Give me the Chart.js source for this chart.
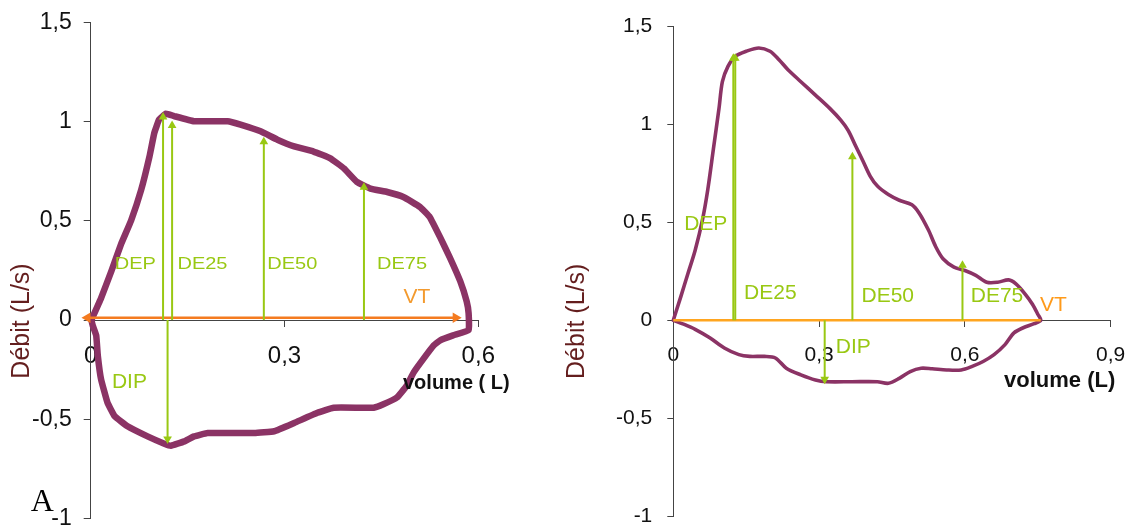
<!DOCTYPE html>
<html><head><meta charset="utf-8">
<script src="https://cdn.jsdelivr.net/npm/chart.js@4/dist/chart.umd.min.js"></script>
<style>
html,body{margin:0;padding:0;background:#fff;}
#wrap{position:relative;width:1131px;height:529px;overflow:hidden;background:#fff;}
.c{position:absolute;top:0;}
</style></head><body>
<div id="wrap">
<div class="c" style="left:0;width:560px;height:529px"><canvas id="cA" width="560" height="529"></canvas></div>
<div class="c" style="left:560px;width:571px;height:529px"><canvas id="cB" width="571" height="529"></canvas></div>
</div>
<script>
// ---------- Data: chart A (left) ----------
const loopA_x = [0.001,0.016,0.032,0.047,0.0625,0.078,0.091,0.0985,0.106,0.1165,0.129,0.160,0.212,0.232,0.263,0.289,0.315,0.345,0.371,0.392,0.412,0.433,0.459,0.484,0.510,0.525,0.541,0.556,0.572,0.582,0.585,0.585,0.561,0.541,0.531,0.515,0.500,0.489,0.474,0.453,0.438,0.417,0.376,0.351,0.315,0.284,0.253,0.181,0.160,0.145,0.124,0.114,0.088,0.057,0.037,0.026,0.016,0.011,0.0085,0.003,0.001];
const loopA_y = [0,0.11,0.247,0.383,0.502,0.655,0.825,0.944,1.012,1.041,1.029,1.003,1.003,0.986,0.952,0.910,0.876,0.850,0.816,0.765,0.697,0.663,0.646,0.621,0.570,0.519,0.417,0.315,0.196,0.094,0.034,-0.051,-0.077,-0.102,-0.128,-0.196,-0.264,-0.332,-0.391,-0.425,-0.442,-0.442,-0.442,-0.468,-0.519,-0.561,-0.570,-0.570,-0.587,-0.612,-0.634,-0.624,-0.587,-0.536,-0.485,-0.417,-0.298,-0.179,-0.077,-0.026,0];
const arrowsA_x = [0.112, 0.126, 0.268, 0.423, 0.119];
const arrowsA_end = [1.024, 0.982, 0.90, 0.67, -0.60];
const vtA_x = [-0.005, 0.565];
const vtA_y = [0.012, 0.012];
const labelsA_text = ['DEP','DE25','DE50','DE75','VT','DIP'];
const labelsA_x = [0.069, 0.173, 0.312, 0.482, 0.505, 0.060];
const labelsA_y = [0.28, 0.28, 0.28, 0.28, 0.1135, -0.315];
const xTicksA = [0, 0.3, 0.6];
const xTickLabelsA = ['0','0,3','0,6'];

// ---------- Data: chart B (right) ----------
const loopB_x = [0,0.015,0.030,0.045,0.060,0.071,0.0825,0.094,0.101,0.1125,0.1275,0.150,0.176,0.199,0.2175,0.236,0.2625,0.2925,0.3225,0.345,0.360,0.375,0.390,0.405,0.420,0.4425,0.465,0.491,0.506,0.525,0.540,0.555,0.5775,0.600,0.6225,0.645,0.6675,0.690,0.705,0.724,0.739,0.750,0.756,0.7425,0.720,0.701,0.6825,0.660,0.6375,0.615,0.5925,0.5625,0.5325,0.510,0.4875,0.465,0.4425,0.420,0.3675,0.315,0.2925,0.2625,0.2325,0.210,0.1875,0.1575,0.135,0.105,0.075,0.045,0.0225,0];
const loopB_y = [0,0.117,0.237,0.357,0.512,0.667,0.873,1.079,1.216,1.294,1.345,1.371,1.388,1.371,1.328,1.277,1.216,1.148,1.079,1.019,0.967,0.890,0.813,0.735,0.684,0.641,0.612,0.589,0.546,0.460,0.375,0.314,0.271,0.254,0.229,0.194,0.194,0.206,0.186,0.134,0.082,0.031,0,-0.017,-0.038,-0.064,-0.124,-0.175,-0.210,-0.235,-0.253,-0.253,-0.247,-0.244,-0.261,-0.296,-0.321,-0.313,-0.313,-0.313,-0.304,-0.278,-0.244,-0.192,-0.184,-0.184,-0.175,-0.141,-0.089,-0.046,-0.021,0];
const arrowsB_x = [0.1235, 0.1275, 0.3685, 0.595, 0.3115];
const arrowsB_end = [1.336, 1.336, 0.834, 0.28, -0.30];
const vtB_x = [0, 0.756];
const vtB_y = [0, 0];
const labelsB_text = ['DEP','DE25','DE50','DE75','VT','DIP'];
const labelsB_x = [0.0667, 0.1996, 0.4413, 0.666, 0.7823, 0.3702];
const labelsB_y = [0.489, 0.1356, 0.124, 0.124, 0.0765, -0.139];
const xTicksB = [0, 0.3, 0.6, 0.9];
const xTickLabelsB = ['0','0,3','0,6','0,9'];

// ---------- shared ----------
const yTicks = [-1, -0.5, 0, 0.5, 1, 1.5];
const yTickLabels = ['-1','-0,5','0','0,5','1','1,5'];
const yTitle = 'Débit (L/s)';
const xTitleA = 'volume ( L)';
const xTitleB = 'volume (L)';
const panelLabel = 'A';

const SANS = "'Liberation Sans', Arial, sans-serif";
const PURPLE = '#8b3365';
const GREEN = '#99c813';

function arrowDatasets(xs, ends, width) {
  return xs.map((x, i) => ({
    data: [{x: x, y: 0}, {x: x, y: ends[i]}],
    showLine: true, borderColor: GREEN, backgroundColor: GREEN, borderWidth: width,
    pointRadius: [0, 5], pointStyle: 'triangle', pointBorderWidth: 0,
    pointRotation: [0, ends[i] < 0 ? 180 : 0], clip: false, order: 1
  }));
}

function textPlugin(spec) {
  return {
    id: 'txt',
    afterDatasetsDraw(chart) {
      const ctx = chart.ctx, xs = chart.scales.x, ys = chart.scales.y;
      ctx.save();
      spec.labels.forEach(l => {
        const px = xs.getPixelForValue(l.x), py = ys.getPixelForValue(l.y);
        ctx.save();
        ctx.translate(px, py);
        ctx.scale(1, l.sy || 1);
        ctx.font = l.font; ctx.fillStyle = l.color;
        ctx.textAlign = 'center'; ctx.textBaseline = 'middle';
        ctx.fillText(l.text, 0, 0);
        ctx.restore();
      });
      // y axis title (rotated)
      ctx.save();
      ctx.translate(spec.yt.x, spec.yt.y);
      ctx.rotate(-Math.PI / 2);
      ctx.font = spec.yt.font; ctx.fillStyle = '#641e1e';
      ctx.textAlign = 'center'; ctx.textBaseline = 'alphabetic';
      ctx.fillText(yTitle, 0, 0);
      ctx.restore();
      // x axis title
      ctx.font = spec.xt.font; ctx.fillStyle = '#111';
      ctx.textAlign = 'left'; ctx.textBaseline = 'alphabetic';
      ctx.fillText(spec.xt.text, spec.xt.x, spec.xt.y);
      if (spec.extra) {
        ctx.font = spec.extra.font; ctx.fillStyle = '#000';
        ctx.fillText(spec.extra.text, spec.extra.x, spec.extra.y);
      }
      ctx.restore();
    }
  };
}

function buildChart(canvasId, cfg) {
  const loop = cfg.loopX.map((x, i) => ({x: x, y: cfg.loopY[i]}));
  const datasets = arrowDatasets(cfg.arrX, cfg.arrEnd, 2).concat([
    {
      data: cfg.vtX.map((x, i) => ({x: x, y: cfg.vtY[i]})),
      showLine: true, borderColor: cfg.vtColor, backgroundColor: cfg.vtColor, borderWidth: cfg.vtWidth,
      pointRadius: cfg.vtHead ? [6, 6] : [0, 0], pointStyle: 'triangle', pointBorderWidth: 0,
      pointRotation: [270, 90], clip: false, order: 2
    },
    {
      data: loop, showLine: true, borderColor: PURPLE, borderWidth: cfg.loopWidth,
      pointRadius: 0, tension: cfg.tension, fill: false, clip: false, order: 3,
      borderJoinStyle: 'round', borderCapStyle: 'round'
    }
  ]);
  const labels = cfg.lText.map((t, i) => ({
    text: t, x: cfg.lX[i], y: cfg.lY[i],
    color: t === 'VT' ? cfg.vtText : GREEN,
    font: (t === 'VT' || t === 'DIP') ? cfg.lFont2 : cfg.lFont,
    sy: (t === 'VT' || t === 'DIP') ? 1 : cfg.lSy
  }));
  return new Chart(document.getElementById(canvasId), {
    type: 'scatter',
    data: {datasets: datasets},
    options: {
      responsive: false, animation: false, devicePixelRatio: 1, events: [],
      layout: {padding: cfg.pad},
      plugins: {legend: {display: false}, tooltip: {enabled: false}},
      scales: {
        x: {
          type: 'linear', min: 0, max: cfg.xMax, position: {y: 0},
          afterBuildTicks: s => { s.ticks = cfg.xTicks.map(v => ({value: v})); },
          afterFit: s => { s.height = 0; s.paddingLeft = 0; s.paddingRight = 0; },
          grid: {drawOnChartArea: false, drawTicks: true, tickLength: 6, color: '#444', lineWidth: 1},
          border: {display: true, color: '#444', width: 1},
          ticks: {
            autoSkip: false, maxRotation: 0, padding: cfg.xPad, color: '#111',
            font: {family: SANS, size: cfg.xFont},
            callback: (v, i) => cfg.xTickLabels[i]
          }
        },
        y: {
          type: 'linear', min: -1, max: 1.5, position: 'left',
          afterBuildTicks: s => { s.ticks = yTicks.map(v => ({value: v})); },
          afterFit: s => { s.width = cfg.yW; s.paddingTop = 0; s.paddingBottom = 0; },
          grid: {drawOnChartArea: false, drawTicks: true, tickLength: cfg.yTl, color: '#444', lineWidth: 1},
          border: {display: true, color: '#444', width: 1},
          ticks: {
            autoSkip: false, padding: cfg.yPad, color: '#111',
            font: {family: SANS, size: cfg.yFont},
            callback: (v, i) => yTickLabels[i]
          }
        }
      }
    },
    plugins: [textPlugin({labels: labels, yt: cfg.yt, xt: cfg.xt, extra: cfg.extra})]
  });
}

buildChart('cA', {
  loopX: loopA_x, loopY: loopA_y, loopWidth: 6.5, tension: 0.1,
  arrX: arrowsA_x, arrEnd: arrowsA_end,
  vtX: vtA_x, vtY: vtA_y, vtColor: '#f47b20', vtText: '#f39a2e', vtWidth: 2.5, vtHead: true,
  lText: labelsA_text, lX: labelsA_x, lY: labelsA_y,
  lFont: "20px " + SANS, lFont2: "21px " + SANS, lSy: 0.86,
  xMax: 0.6, xTicks: xTicksA, xTickLabels: xTickLabelsA, xFont: 24, xPad: 16,
  yFont: 23, yTl: 7, yPad: 12, yW: 80,
  pad: {left: 10.7, right: 81.7, top: 22.7, bottom: 10.7},
  yt: {x: 28.8, y: 321, font: "25px " + SANS},
  xt: {text: xTitleA, x: 403, y: 389, font: "bold 20px " + SANS},
  extra: {text: panelLabel, x: 30.7, y: 511, font: "32px 'Liberation Serif', 'Times New Roman', serif"}
});

buildChart('cB', {
  loopX: loopB_x, loopY: loopB_y, loopWidth: 3.6, tension: 0.3,
  arrX: arrowsB_x, arrEnd: arrowsB_end,
  vtX: vtB_x, vtY: vtB_y, vtColor: '#ffa51f', vtText: '#ff9a1a', vtWidth: 2.5, vtHead: false,
  lText: labelsB_text, lX: labelsB_x, lY: labelsB_y,
  lFont: "21px " + SANS, lFont2: "21px " + SANS, lSy: 1,
  xMax: 0.9, xTicks: xTicksB, xTickLabels: xTickLabelsB, xFont: 21, xPad: 16,
  yFont: 21, yTl: 6, yPad: 15, yW: 100,
  pad: {left: 13.3, right: 20.3, top: 26, bottom: 12.5},
  yt: {x: 23.7, y: 321.3, font: "25px " + SANS},
  xt: {text: xTitleB, x: 444, y: 387, font: "bold 22px " + SANS},
  extra: null
});
</script>
</body></html>
